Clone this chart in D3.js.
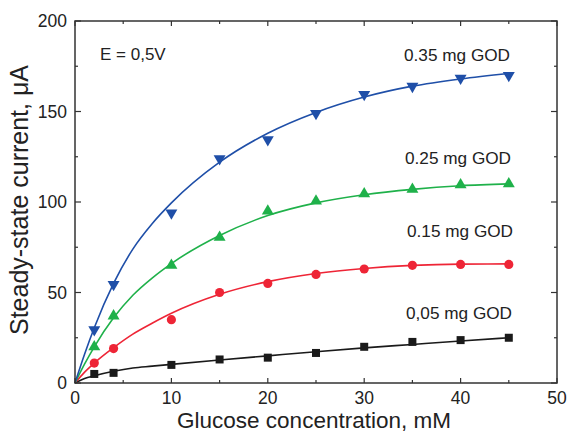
<!DOCTYPE html>
<html>
<head>
<meta charset="utf-8">
<script src="https://cdn.jsdelivr.net/npm/d3@7"></script>
<style>
  body { margin: 0; background: #fff; }
  text { font-family: "Liberation Sans", Arial, sans-serif; fill: #222; }
</style>
</head>
<body>
<svg id="chart"></svg>
<script>
const WIDTH = 568;
const HEIGHT = 434;

// glucose concentration, mM
const conc = [2, 4, 10, 15, 20, 25, 30, 35, 40, 45];

// measured steady-state current, uA
const god005 = [5, 5.6, 10, 13, 14, 16.6, 20, 22.7, 23.7, 25];
const god015 = [11, 19, 35, 50, 55, 60, 63, 65, 65.5, 65.5];
const god025 = [20, 37, 65, 80.5, 95, 100.5, 104.5, 107, 109.5, 110];
const god035 = [30, 55, 94.5, 124.5, 135, 149.5, 160, 164.5, 169, 170.5];

// fitted curves
const fitConc = [0, 1, 2, 4, 6, 8, 10, 15, 20, 25, 30, 35, 40, 45];
const fit005 = [0, 2.5, 4, 6.5, 8.3, 9.3, 10.3, 12.7, 15, 17.3, 19.4, 21.3, 23.2, 25];
const fit015 = [0, 6, 11, 19.5, 27, 33, 38.5, 49, 56, 60.5, 63.3, 65, 65.7, 65.8];
const fit025 = [0, 10.5, 20, 36, 48.5, 58, 66, 81.5, 92.5, 99.5, 104, 107, 109, 110];
const fit035 = [0, 16, 30.5, 55, 74, 88, 99.5, 122, 138, 149.5, 158, 164, 168, 171];

const xTicks = [0, 10, 20, 30, 40, 50];
const yTicks = [0, 50, 100, 150, 200];

const series = [
  { name: "0,05 mg GOD", vals: god005, fit: fit005, color: "#1a1a1a", symbol: d3.symbolSquare, size: 64, rot: 0, label: [406, 319] },
  { name: "0.15 mg GOD", vals: god015, fit: fit015, color: "#ee2536", symbol: d3.symbolCircle, size: 66, rot: 0, label: [407, 237] },
  { name: "0.25 mg GOD", vals: god025, fit: fit025, color: "#1fb14a", symbol: d3.symbolTriangle, size: 62, rot: 0, label: [405, 164] },
  { name: "0.35 mg GOD", vals: god035, fit: fit035, color: "#1f4fa8", symbol: d3.symbolTriangle, size: 62, rot: 180, label: [404, 61] }
];

const x = d3.scaleLinear().domain([0, 50]).range([75, 557]);
const y = d3.scaleLinear().domain([0, 200]).range([383, 21]);

const svg = d3.select("#chart")
  .attr("width", WIDTH)
  .attr("height", HEIGHT);

// curves
const line = d3.line()
  .x(d => x(d[0]))
  .y(d => y(d[1]))
  .curve(d3.curveMonotoneX);

series.forEach(s => {
  svg.append("path")
    .attr("d", line(fitConc.map((c, i) => [c, s.fit[i]])))
    .attr("fill", "none")
    .attr("stroke", s.color)
    .attr("stroke-width", 1.6);
});

// markers
series.forEach(s => {
  const sym = d3.symbol().type(s.symbol).size(s.size);
  svg.append("g").selectAll("path")
    .data(conc.map((c, i) => [c, s.vals[i]]))
    .join("path")
    .attr("d", sym)
    .attr("transform", d => `translate(${x(d[0])},${y(d[1]) + (s.rot ? 1 : 0)}) rotate(${s.rot})`)
    .attr("fill", s.color);

  svg.append("text")
    .attr("x", s.label[0])
    .attr("y", s.label[1])
    .attr("font-size", 17.2)
    .text(s.name);
});

// frame and ticks (all inward)
const axisColor = "#333";
svg.append("rect")
  .attr("x", x(0)).attr("y", y(200))
  .attr("width", x(50) - x(0)).attr("height", y(0) - y(200))
  .attr("fill", "none").attr("stroke", axisColor).attr("stroke-width", 1.5);

const xMinor = d3.range(5, 50, 10);
const yMinor = d3.range(25, 200, 50);
const tickG = svg.append("g").attr("stroke", axisColor).attr("stroke-width", 1.2);

xTicks.concat(xMinor).forEach(v => {
  const len = xTicks.includes(v) ? 5 : 3;
  tickG.append("line").attr("x1", x(v)).attr("x2", x(v)).attr("y1", y(0)).attr("y2", y(0) - len);
  tickG.append("line").attr("x1", x(v)).attr("x2", x(v)).attr("y1", y(200)).attr("y2", y(200) + len);
});
yTicks.concat(yMinor).forEach(v => {
  const len = yTicks.includes(v) ? 6 : 3;
  tickG.append("line").attr("x1", x(0)).attr("x2", x(0) + len).attr("y1", y(v)).attr("y2", y(v));
  tickG.append("line").attr("x1", x(50)).attr("x2", x(50) - len).attr("y1", y(v)).attr("y2", y(v));
});

// tick labels
svg.append("g").selectAll("text")
  .data(xTicks)
  .join("text")
  .attr("x", d => x(d))
  .attr("y", 404)
  .attr("text-anchor", "middle")
  .attr("font-size", 17.5)
  .text(d => d);

svg.append("g").selectAll("text")
  .data(yTicks)
  .join("text")
  .attr("x", 67)
  .attr("y", d => y(d))
  .attr("dy", "0.36em")
  .attr("text-anchor", "end")
  .attr("font-size", 17.5)
  .text(d => d);

// axis titles
svg.append("text")
  .attr("x", x(25) - 2)
  .attr("y", 428)
  .attr("text-anchor", "middle")
  .attr("font-size", 22.5)
  .text("Glucose concentration, mM");

svg.append("text")
  .attr("transform", `translate(28,${(y(0) + y(200)) / 2 - 2}) rotate(-90)`)
  .attr("text-anchor", "middle")
  .attr("font-size", 25)
  .text("Steady-state current, μA");

svg.append("text")
  .attr("x", 100)
  .attr("y", 60)
  .attr("font-size", 17)
  .text("E = 0,5V");
</script>
</body>
</html>
